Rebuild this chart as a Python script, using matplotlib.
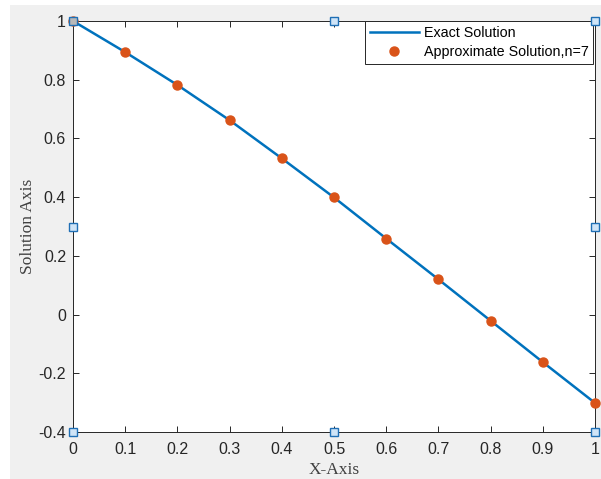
import numpy as np
import matplotlib
matplotlib.use("Agg")
import matplotlib.pyplot as plt
from matplotlib.patches import Rectangle

plt.rcParams['axes.unicode_minus'] = False

# data
x_vals = [0.0, 0.1, 0.2, 0.3, 0.4, 0.5, 0.6, 0.7, 0.8, 0.9, 1.0]
exact_vals = [1.0, 0.894, 0.782, 0.662, 0.532, 0.399, 0.259, 0.120, -0.021, -0.162, -0.301]
approx_vals = [1.0, 0.894, 0.782, 0.662, 0.532, 0.399, 0.259, 0.120, -0.021, -0.162, -0.301]
x_ticks = [0, 0.1, 0.2, 0.3, 0.4, 0.5, 0.6, 0.7, 0.8, 0.9, 1]
x_ticklabels = ['0', '0.1', '0.2', '0.3', '0.4', '0.5', '0.6', '0.7', '0.8', '0.9', '1']
y_ticks = [-0.4, -0.2, 0, 0.2, 0.4, 0.6, 0.8, 1]
y_ticklabels = ['-0.4', '-0.2', '0', '0.2', '0.4', '0.6', '0.8', '1']

W, H = 601, 479
fig = plt.figure(figsize=(W / 100, H / 100), dpi=100, facecolor='white')
# grey figure window area
fig.patches.append(Rectangle((10 / W, 0), 1 - 10 / W, 1 - 5 / H, transform=fig.transFigure,
                             facecolor='#f0f0f0', edgecolor='none', zorder=-10))

ax = fig.add_axes([73 / W, 1 - 432 / H, (595 - 73) / W, (432 - 21) / H])
ax.set_facecolor('white')

ax.plot(x_vals, exact_vals, color='#0072BD', lw=1.8, label='Exact Solution', zorder=3)
ax.plot(x_vals, approx_vals, 'o', color='#D95319', ms=6.5, mec='#D95319',
        label='Approximate Solution,n=7', zorder=4, clip_on=False)

ax.set_xlim(0, 1)
ax.set_ylim(-0.4, 1)
ax.set_xticks(x_ticks)
ax.set_xticklabels(x_ticklabels)
ax.set_yticks(y_ticks)
ax.set_yticklabels(y_ticklabels)

for lab in ax.get_xticklabels() + ax.get_yticklabels():
    lab.set_fontfamily('Liberation Sans')
    lab.set_fontsize(11.5)
    lab.set_color('#262626')

ax.tick_params(direction='in', top=True, right=True, length=4, width=0.7,
               color='#262626')
ax.tick_params(axis='x', pad=7)
ax.tick_params(axis='y', pad=5)
for s in ax.spines.values():
    s.set_color('#262626')
    s.set_linewidth(0.7)

ax.set_xlabel('X-Axis', family='Liberation Serif', fontsize=12.5, color='#404040', labelpad=4)
ax.set_ylabel('Solution Axis', family='Liberation Serif', fontsize=12.5, color='#404040', labelpad=2)

leg = ax.legend(loc='upper right', bbox_to_anchor=(0.997, 1.0), borderaxespad=0,
                prop={'family': 'Liberation Sans', 'size': 10.3}, fancybox=False,
                framealpha=1, edgecolor='#262626', handlelength=3.4, handletextpad=0.35,
                borderpad=0.35, labelspacing=0.35)
leg.get_frame().set_linewidth(0.7)

# selection handles on the axes box
handles_pos = [(0, 1), (0.5, 1), (1, 1), (0, 0.5), (1, 0.5), (0, 0), (0.5, 0), (1, 0)]
for hx, hy in handles_pos:
    face = '#b8b8b8' if (hx, hy) == (0, 1) else '#cfe4f7'
    ax.plot(hx, hy, 's', ms=6.2, mfc=face, mec='#1f6fb5', mew=1,
            transform=ax.transAxes, clip_on=False, zorder=10)

fig.savefig('out.png', dpi=100, facecolor=fig.get_facecolor())
